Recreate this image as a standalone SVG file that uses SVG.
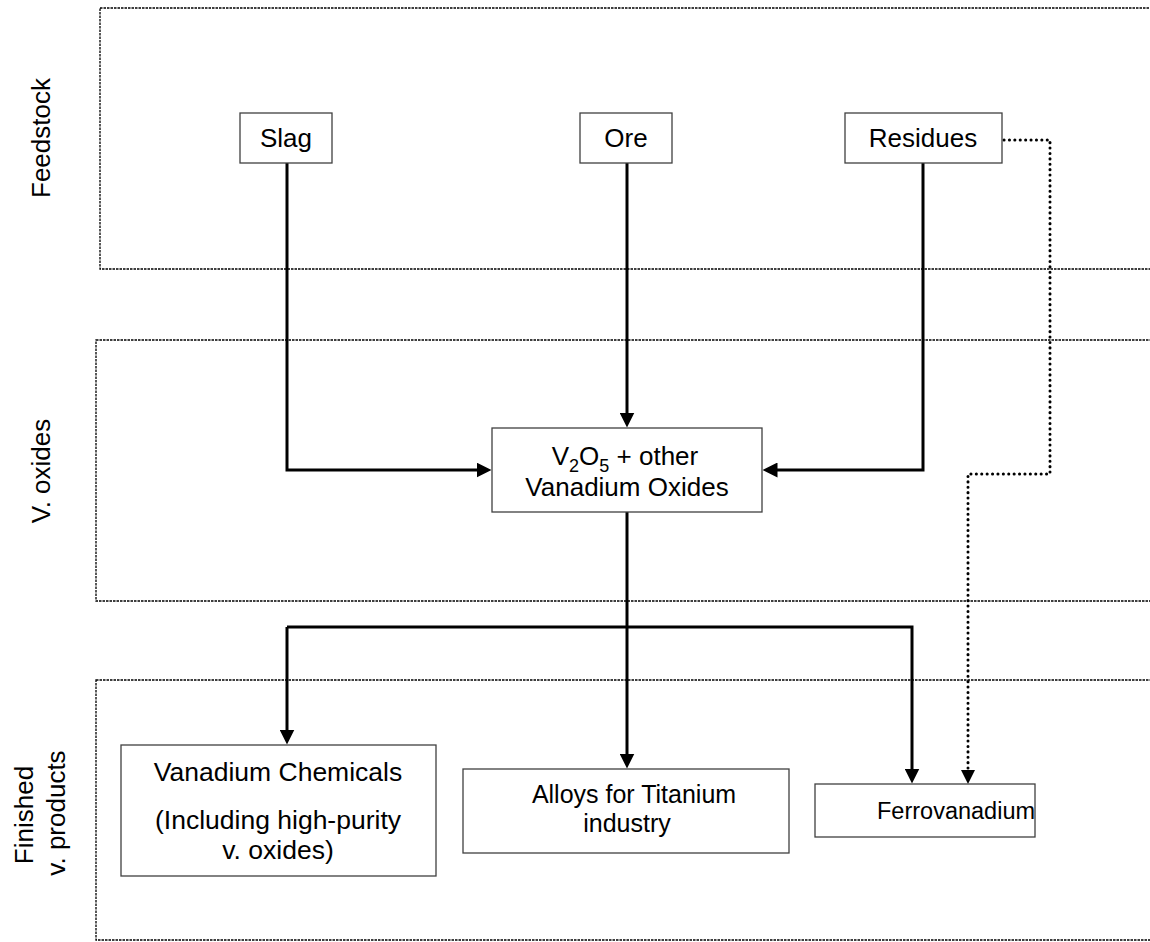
<svg xmlns="http://www.w3.org/2000/svg" width="1150" height="942" viewBox="0 0 1150 942">
<style>
text{font-family:"Liberation Sans",Arial,sans-serif;font-size:26px;fill:#000}
.lane{fill:none;stroke:#000;stroke-width:1.3;stroke-dasharray:2.5 1}
.box{fill:#fff;stroke:#404040;stroke-width:1.3}
.c{text-anchor:middle}
.flow{fill:none;stroke:#000;stroke-width:3}
.dot{fill:none;stroke:#000;stroke-width:3;stroke-dasharray:0.1 5.3;stroke-linecap:round}
.sub{font-size:18px}
</style>
<defs>
<marker id="ah" viewBox="0 0 10 10" refX="1" refY="5" markerWidth="5" markerHeight="5" orient="auto" markerUnits="strokeWidth">
<path d="M0,0 L10,5 L0,10 z" fill="#000"/>
</marker>
</defs>
<g id="lanes">
<rect class="lane" x="100" y="8" width="1060" height="261"/>
<rect class="lane" x="96" y="340" width="1064" height="261"/>
<rect class="lane" x="96" y="680" width="1064" height="260"/>
<text class="c" transform="translate(50,138) rotate(-90)">Feedstock</text>
<text class="c" transform="translate(50,471) rotate(-90)">V. oxides</text>
<text class="c" transform="translate(33,815) rotate(-90)">Finished</text>
<text class="c" transform="translate(65,813) rotate(-90)">v. products</text>
</g>
<g id="connectors">
<path class="flow" d="M287,163 V470 H478" marker-end="url(#ah)"/>
<path class="flow" d="M627,163 V414" marker-end="url(#ah)"/>
<path class="flow" d="M923,163 V470 H776" marker-end="url(#ah)"/>
<path class="flow" d="M627,512 V755" marker-end="url(#ah)"/>
<path class="flow" d="M287,627 H912 V770" marker-end="url(#ah)"/>
<path class="flow" d="M287,627 V731" marker-end="url(#ah)"/>
<path class="dot" d="M1004,140 H1050 V474 H968 V772"/>
<path d="M961,770 L975,770 L968,784 z" fill="#000"/>
</g>
<g id="slag">
<rect class="box" x="240" y="113" width="92" height="50"/>
<text class="c" x="286" y="147">Slag</text>
</g>
<g id="ore">
<rect class="box" x="580" y="113" width="92" height="50"/>
<text class="c" x="626" y="147">Ore</text>
</g>
<g id="residues">
<rect class="box" x="845" y="113" width="157" height="50"/>
<text class="c" x="923" y="147">Residues</text>
</g>
<g id="oxides">
<rect class="box" x="492" y="428" width="270" height="84"/>
<text class="c" x="625" y="465">V<tspan class="sub" dy="7">2</tspan><tspan dy="-7">O</tspan><tspan class="sub" dy="7">5</tspan><tspan dy="-7"> + other</tspan></text>
<text class="c" x="627" y="496">Vanadium Oxides</text>
</g>
<g id="chemicals">
<rect class="box" x="121" y="745" width="315" height="131"/>
<text class="c" x="278" y="781" style="font-size:26.5px">Vanadium Chemicals</text>
<text class="c" x="278" y="829" style="font-size:26.5px">(Including high-purity</text>
<text class="c" x="278" y="859" style="font-size:26.5px">v. oxides)</text>
</g>
<g id="alloys">
<rect class="box" x="463" y="769" width="326" height="84"/>
<text class="c" x="634" y="803" style="font-size:25px">Alloys for Titanium</text>
<text class="c" x="627" y="832" style="font-size:25px">industry</text>
</g>
<g id="ferrovanadium">
<rect class="box" x="815" y="784" width="220" height="53"/>
<text x="877" y="819" style="font-size:23.5px">Ferrovanadium</text>
</g>
</svg>
